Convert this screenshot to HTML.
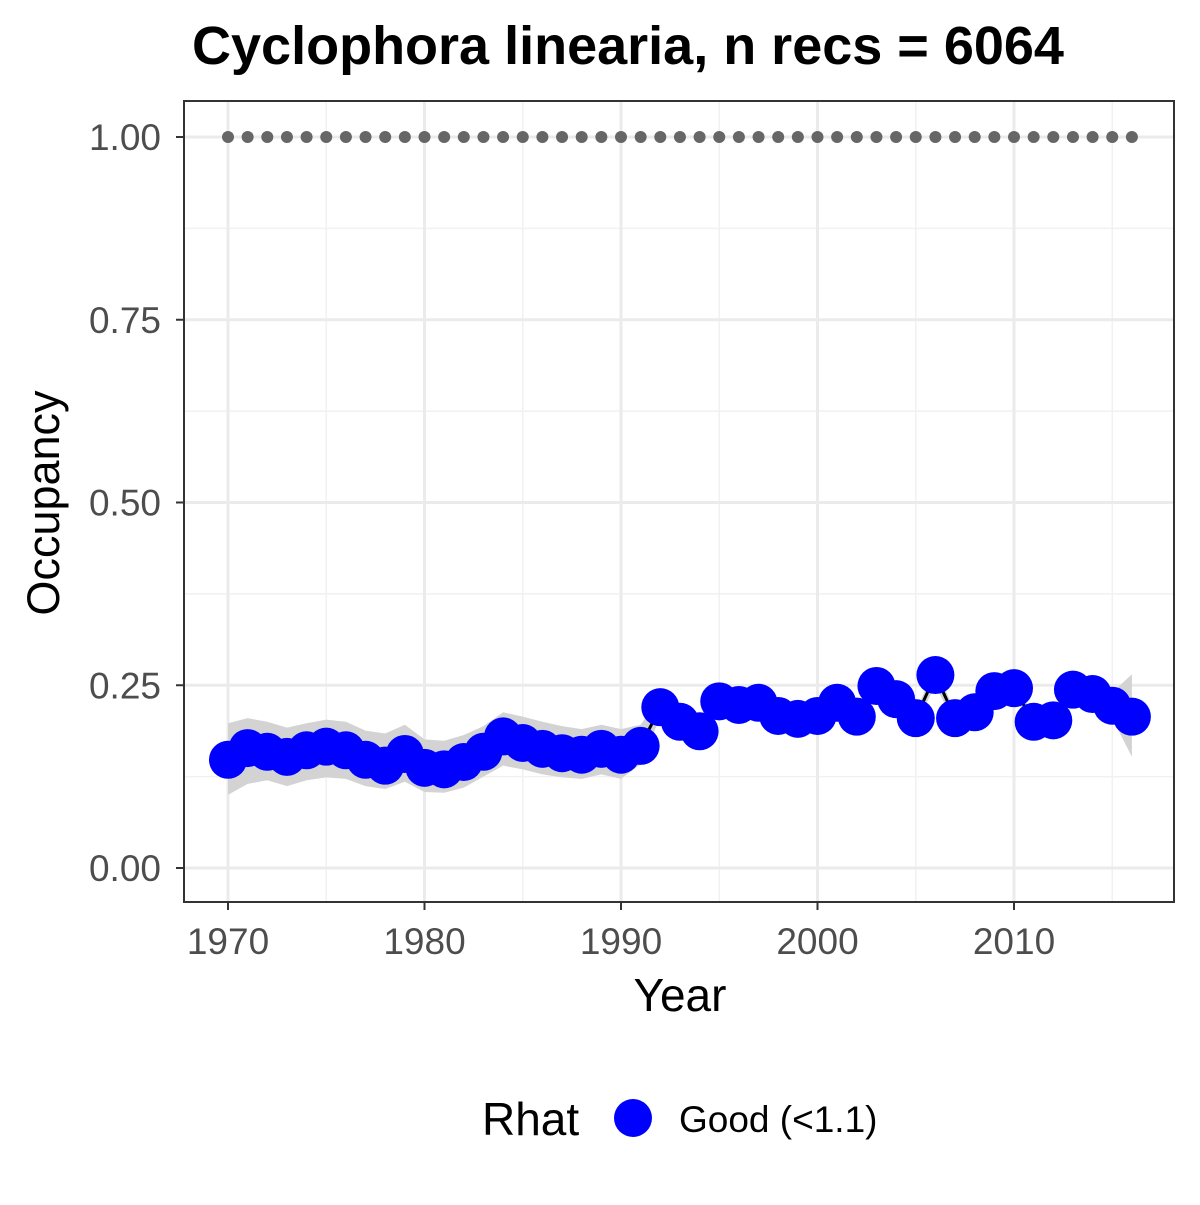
<!DOCTYPE html>
<html><head><meta charset="utf-8"><style>
body{margin:0;background:#fff;}
svg text{font-family:"Liberation Sans",Arial,sans-serif;}
</style></head><body>
<svg id="chart" width="1200" height="1200" xmlns="http://www.w3.org/2000/svg">
<rect width="1200" height="1200" fill="#fff"/>
<text x="628" y="64" text-anchor="middle" font-size="54" font-weight="bold">Cyclophora linearia, n recs = 6064</text>
<g id="grid"></g>
<g id="band"></g>
<g id="marks"></g>
<rect x="184" y="101" width="990" height="801" fill="none" stroke="#333" stroke-width="2"/>
<g id="axes"></g>
<text x="680" y="1011" text-anchor="middle" font-size="46">Year</text>
<text transform="translate(59,503) rotate(-90)" text-anchor="middle" font-size="45">Occupancy</text>
<g>
<text x="482" y="1135" font-size="46">Rhat</text>
<circle cx="633" cy="1118" r="19" fill="#0000ff"/>
<text x="679" y="1132" font-size="37">Good (&lt;1.1)</text>
</g>
</svg>
<script>
const years = [1970,1971,1972,1973,1974,1975,1976,1977,1978,1979,1980,1981,1982,1983,1984,1985,1986,1987,1988,1989,1990,1991,1992,1993,1994,1995,1996,1997,1998,1999,2000,2001,2002,2003,2004,2005,2006,2007,2008,2009,2010,2011,2012,2013,2014,2015,2016];
const occupancy = [0.148,0.164,0.159,0.152,0.161,0.166,0.161,0.148,0.140,0.156,0.137,0.135,0.145,0.159,0.180,0.171,0.163,0.157,0.155,0.163,0.155,0.167,0.220,0.200,0.187,0.228,0.223,0.226,0.208,0.204,0.208,0.226,0.207,0.249,0.231,0.205,0.264,0.205,0.213,0.242,0.246,0.200,0.202,0.244,0.238,0.222,0.207];
const lower = [0.100,0.115,0.120,0.112,0.120,0.124,0.122,0.112,0.108,0.118,0.104,0.103,0.110,0.125,0.140,0.135,0.128,0.124,0.122,0.128,0.122,0.142,0.207,0.191,0.181,0.217,0.215,0.217,0.200,0.196,0.200,0.217,0.199,0.238,0.222,0.196,0.250,0.196,0.204,0.232,0.235,0.191,0.193,0.232,0.227,0.205,0.152];
const upper = [0.198,0.205,0.200,0.192,0.198,0.203,0.200,0.188,0.184,0.196,0.176,0.174,0.182,0.194,0.213,0.207,0.200,0.194,0.190,0.196,0.190,0.196,0.235,0.212,0.198,0.240,0.232,0.236,0.218,0.214,0.218,0.236,0.216,0.260,0.241,0.214,0.275,0.214,0.222,0.252,0.256,0.209,0.211,0.255,0.250,0.240,0.265];
const yTicks = [0,0.25,0.5,0.75,1.0];
const yTickLabels = ["0.00","0.25","0.50","0.75","1.00"];
const xTicks = [1970,1980,1990,2000,2010];
const refLine = 1.0;

const NS="http://www.w3.org/2000/svg";
const xS = v => 228 + (v-1970)*(1014-228)/40;
const yS = v => 868 - v*731;
function mk(tag, attrs, parent){const e=document.createElementNS(NS,tag);for(const k in attrs)e.setAttribute(k,attrs[k]);parent.appendChild(e);return e;}
const grid=document.getElementById('grid'), band=document.getElementById('band'), marks=document.getElementById('marks'), axes=document.getElementById('axes');
for(let i=0;i<yTicks.length-1;i++){const l=mk('line',{x1:184,x2:1174,y1:yS((yTicks[i]+yTicks[i+1])/2),y2:yS((yTicks[i]+yTicks[i+1])/2),stroke:'#f1f1f1','stroke-width':1.5},grid);
}
for(let i=0;i<xTicks.length;i++){const v=xTicks[i]+5;if(xS(v)<1174){const l=mk('line',{x1:xS(v),x2:xS(v),y1:101,y2:902,stroke:'#f1f1f1','stroke-width':1.5},grid);
}}
yTicks.forEach((t,i)=>{const l=mk('line',{x1:184,x2:1174,y1:yS(t),y2:yS(t),stroke:'#ebebeb','stroke-width':3},grid);

const tk=mk('line',{x1:176,x2:184,y1:yS(t),y2:yS(t),stroke:'#333','stroke-width':2},axes);

const tx=mk('text',{x:161,y:yS(t)+13,'text-anchor':'end','font-size':37,fill:'#4d4d4d'},axes);tx.textContent=yTickLabels[i];
});
xTicks.forEach(t=>{const l=mk('line',{x1:xS(t),x2:xS(t),y1:101,y2:902,stroke:'#ebebeb','stroke-width':3},grid);

const tk=mk('line',{x1:xS(t),x2:xS(t),y1:902,y2:910,stroke:'#333','stroke-width':2},axes);

const tx=mk('text',{x:xS(t),y:954,'text-anchor':'middle','font-size':37,fill:'#4d4d4d'},axes);tx.textContent=t;
});
let d='';years.forEach((y,i)=>{d+=(i?'L':'M')+xS(y)+','+yS(upper[i]);});
for(let i=years.length-1;i>=0;i--)d+='L'+xS(years[i])+','+yS(lower[i]);
const b=mk('path',{d:d+'Z',fill:'#d3d3d3'},band);

let ld='';years.forEach((y,i)=>{ld+=(i?'L':'M')+xS(y)+','+yS(occupancy[i]);});
const ln=mk('path',{d:ld,fill:'none',stroke:'#000','stroke-width':3},marks);

years.forEach(y=>{const c=mk('circle',{cx:xS(y),cy:yS(refLine),r:6,fill:'#666'},marks);
});
years.forEach((y,i)=>{const c=mk('circle',{cx:xS(y),cy:yS(occupancy[i]),r:19,fill:'#0000ff'},marks);
});
</script>
</body></html>
